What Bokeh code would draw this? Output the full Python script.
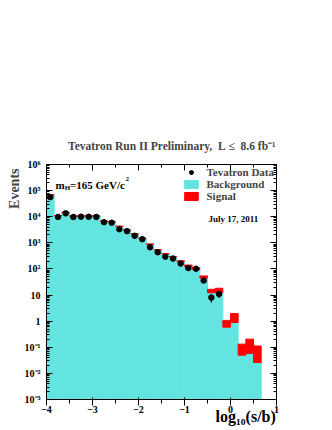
import numpy as np
from bokeh.plotting import figure
from bokeh.models import (Range1d, LinearAxis, LogAxis, FixedTicker, Label,
                          Legend, LegendItem, Title)
from bokeh.embed import file_html
from bokeh.resources import INLINE

# ---------------- data ----------------
bin_low = -4.0
bin_width = 1.0 / 6.0

background = [69000, 11000, 14800, 10700, 10700, 10700, 10700, 6800, 6500,
              4300, 3100, 2200, 1500, 890, 540, 380, 295, 195, 123, 95, 45,
              12.3, 12.3, 0.59, 0.89, 0.050, 0.058, 0.026]
signal = [6, 3, 4, 3, 3, 3, 3, 2.5, 2.5, 2.5, 2.5, 2.5, 3, 3, 3.5, 4, 5, 9,
          18, 17, 9, 4.3, 5.9, 0.48, 1.06, 0.082, 0.147, 0.086]
data = [56300, 9800, 13500, 9750, 10050, 9950, 9800, 6150, 5900, 3320, 2800,
        1860, 1380, 675, 435, 295, 250, 162, 108, 102, 36, 8, 11]

x_ticks = [-4, -3, -2, -1, 0, 1]
x_minor = [-3.5, -2.5, -1.5, -0.5, 0.5]
y_exponents = list(range(-3, 7))

# ---------------- derived ----------------
n_bins = len(background)
left = [bin_low + i * bin_width for i in range(n_bins)]
right = [l + bin_width for l in left]
total = [b + s for b, s in zip(background, signal)]
centers = [bin_low + (i + 0.5) * bin_width for i in range(len(data))]
err_lo = [d - np.sqrt(d) for d in data]
err_hi = [d + np.sqrt(d) for d in data]
y_bottom = 10.0 ** y_exponents[0]
y_top = 10.0 ** y_exponents[-1]

FONT = "Liberation Serif"
CYAN = "#64E4E0"
RED = "#FF0000"
NB = "\u00a0"
SUP = str.maketrans("0123456789-", "\u2070\u00b9\u00b2\u00b3\u2074\u2075\u2076\u2077\u2078\u2079\u207b")


def y_label(e):
    if e == 0:
        return "1"
    if e == 1:
        return "10"
    return "10" + str(e).translate(SUP)


p = figure(frame_width=230, frame_height=235,
           x_range=Range1d(x_ticks[0], x_ticks[-1]),
           y_range=Range1d(y_bottom, y_top),
           y_axis_type="log", output_backend="svg", toolbar_location=None,
           min_border_left=46, min_border_right=40,
           min_border_top=164, min_border_bottom=25)
p.grid.visible = False
p.outline_line_color = "black"
p.background_fill_color = "white"
p.border_fill_color = "white"

r_bg = p.quad(left=left, right=right, bottom=[y_bottom] * n_bins, top=background,
              fill_color=CYAN, line_color=CYAN, line_width=1)
r_sig = p.quad(left=left, right=right, bottom=background, top=total,
               fill_color=RED, line_color=RED, line_width=1)
p.segment(x0=centers, y0=err_lo, x1=centers, y1=err_hi, line_color="black",
          line_width=1.2)
r_data = p.scatter(x=centers, y=data, size=5.5, marker="circle",
                   fill_color="black", line_color="black")

# ---------------- axes ----------------
xt = FixedTicker(ticks=x_ticks, minor_ticks=x_minor)
y_major = [10.0 ** e for e in y_exponents]
yt = FixedTicker(ticks=y_major,
                 minor_ticks=[k * 10.0 ** e for e in y_exponents[:-1] for k in range(2, 10)])

p.xaxis.ticker = xt
p.yaxis.ticker = yt
p.yaxis.major_label_overrides = {v: y_label(e) for v, e in zip(y_major, y_exponents)}
for ax in [p.xaxis[0], p.yaxis[0]]:
    ax.major_label_text_font = FONT
    ax.major_label_text_font_style = "bold"
    ax.major_label_text_font_size = "10px"
    ax.major_label_text_color = "black"
p.xaxis.major_label_standoff = 0
p.yaxis.major_label_standoff = 6

top_ax = LinearAxis(ticker=xt, major_label_text_color=None,
                    major_label_text_font_size="1px", major_label_standoff=0)
right_ax = LogAxis(ticker=yt, major_label_text_color=None,
                   major_label_text_font_size="1px", major_label_standoff=0)
p.add_layout(top_ax, "above")
p.add_layout(right_ax, "right")

for ax in [p.xaxis[0], p.yaxis[0], top_ax, right_ax]:
    ax.major_tick_in = 6
    ax.major_tick_out = 0
    ax.minor_tick_in = 3
    ax.minor_tick_out = 0
    ax.axis_line_color = "black"
    ax.major_tick_line_color = "black"
    ax.minor_tick_line_color = "black"

# x-axis title drawn as the single label of a bare extra axis below
xlab_pos = 0.33
xlab_ax = LinearAxis(ticker=FixedTicker(ticks=[xlab_pos], minor_ticks=[]),
                     major_label_overrides={xlab_pos: "log\u2081\u2080(s/b)"},
                     major_label_text_font=FONT, major_label_text_font_style="bold",
                     major_label_text_font_size="16px", major_label_text_color="black",
                     major_label_standoff=-8, major_tick_in=0, major_tick_out=0,
                     minor_tick_in=0, minor_tick_out=0, axis_line_color=None,
                     major_tick_line_color=None, minor_tick_line_color=None)
p.add_layout(xlab_ax, "below")

# titles
p.title.text = ("Tevatron Run II Preliminary," + NB + NB + "L" + NB + "\u2264" + NB + NB
                + "8.6" + NB + "fb\u207b\u00b9")
p.title.align = "right"
p.title.offset = 1
p.title.text_font = FONT
p.title.text_font_style = "bold"
p.title.text_font_size = "11.5px"
p.title.standoff = 25

ylab = Title(text="Events", align="right", text_font=FONT, offset=4,
             text_font_style="bold", text_font_size="14px", standoff=0)
p.add_layout(ylab, "left")


def lab(text, x, y, dx, dy, size, align="left", baseline="middle"):
    p.add_layout(Label(x=x, y=y, x_offset=dx, y_offset=dy, text=text,
                       text_font=FONT, text_font_style="bold",
                       text_font_size=size, text_align=align,
                       text_baseline=baseline, text_color="black"))


x0 = x_ticks[0]
lab("m", x0, y_top, 9, -20, "11px", baseline="alphabetic")
lab("H", x0, y_top, 18.3, -23, "7px", baseline="alphabetic")
lab("=165 GeV/c", x0, y_top, 23.5, -20, "11px", baseline="alphabetic")
lab("2", x0, y_top, 79, -14, "7px", baseline="alphabetic")
lab("July 17, 2011", x0, y_top, 162, -54.5, "9px")

legend = Legend(items=[LegendItem(label="Tevatron Data", renderers=[r_data]),
                       LegendItem(label="Background", renderers=[r_bg]),
                       LegendItem(label="Signal", renderers=[r_sig])],
                location="top_right", background_fill_alpha=0,
                border_line_color=None, padding=0, margin=2, spacing=0,
                glyph_width=17, glyph_height=10, label_standoff=7,
                label_height=12, label_text_font=FONT,
                label_text_font_style="bold", label_text_font_size="11px")
p.add_layout(legend)

open("out.html", "w").write(file_html(p, INLINE))
